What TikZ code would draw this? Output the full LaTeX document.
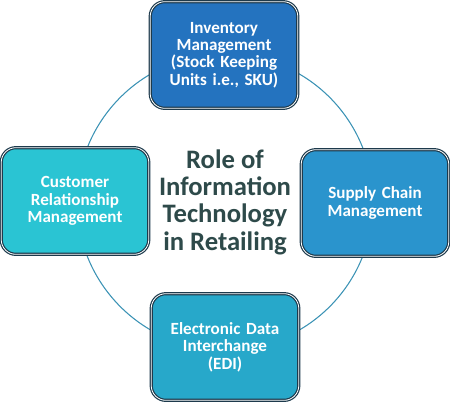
\documentclass[tikz,border=0pt]{standalone}
\usepackage{fontspec}
\setmainfont{Carlito}
\usepackage{xcolor}
\usepackage{tikz}
\usetikzlibrary{positioning, calc}

\definecolor{invblue}{HTML}{2473BF}
\definecolor{scmblue}{HTML}{2A94CD}
\definecolor{edicyan}{HTML}{27A8CA}
\definecolor{crmcyan}{HTML}{2AC4D3}
\definecolor{boxedge}{HTML}{1D3A4C}
\definecolor{ringcol}{HTML}{3C93B5}
\definecolor{hubtext}{HTML}{2E4A4A}

\begin{document}
\begin{tikzpicture}[
  x=0.75pt, y=-0.75pt,
  itbox/.style={
    rectangle, rounded corners=11pt,
    draw=boxedge, line width=0.9pt,
    minimum width=108pt, minimum height=80pt,
    text width=104pt, align=center,
    text=white, font=\fontsize{12.8}{13}\selectfont\bfseries,
    double=white!60, double distance=0.6pt},
  hubtxt/.style={
    text=hubtext, align=center,
    font=\fontsize{20}{20.5}\selectfont\bfseries},
  ring/.style={draw=ringcol, line width=0.8pt},
]

%% ---- Frame ----
\useasboundingbox (0,0) rectangle (450,408);

%% ---- Centre text and ring ----
\node[hubtxt] (hub) at (225,202) {Role of\\Information\\Technology\\in Retailing};
\draw[ring] (hub.center) circle (148);

%% ---- The four roles ----
\node[itbox, fill=invblue] (inv) at (224,55) {%
  Inventory\\Management\\(Stock Keeping\\Units i.e., SKU)};

\node[itbox, fill=scmblue] (scm) at (375,203) {%
  Supply Chain\\Management};

\node[itbox, fill=edicyan] (edi) at (225,347) {%
  Electronic Data\\Interchange\\(EDI)};

\node[itbox, fill=crmcyan] (crm) at (75,201) {%
  Customer\\Relationship\\Management};

\end{tikzpicture}
\end{document}
